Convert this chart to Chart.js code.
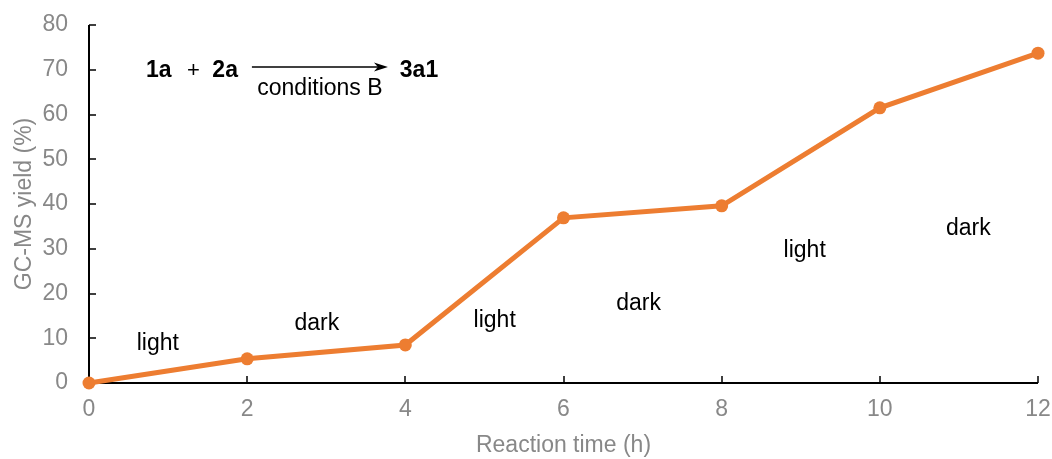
<!DOCTYPE html>
<html>
<head>
<meta charset="utf-8">
<script src="https://cdn.jsdelivr.net/npm/chart.js@4"></script>
<style>
  html, body { margin: 0; padding: 0; background: #fff; }
  #wrap { width: 1052px; height: 459px; }
</style>
</head>
<body>
<div id="wrap"><canvas id="c" width="1052" height="459"></canvas></div>
<script>
// ---- data ----
const times = [0, 2, 4, 6, 8, 10, 12];
const yields = [0, 5.4, 8.5, 36.9, 39.6, 61.5, 73.7];
const xTicks = [0, 2, 4, 6, 8, 10, 12];
const yTicks = [0, 10, 20, 30, 40, 50, 60, 70, 80];
const phaseLabels = ['light', 'dark', 'light', 'dark', 'light', 'dark'];
const phaseX = [0.87, 2.88, 5.13, 6.95, 9.05, 11.12];
const phaseY = [8.9, 13.2, 13.9, 17.7, 29.5, 34.6];
const xTitle = 'Reaction time (h)';
const yTitle = 'GC-MS yield (%)';

const FONT = '"Liberation Sans", Arial, sans-serif';
const GRAY = '#888888';
const ORANGE = '#ED7D31';

const annotPlugin = {
  id: 'annot',
  beforeDatasetsDraw(chart) {
    const ctx = chart.ctx;
    const xs = chart.scales.x, ys = chart.scales.y;
    const x0 = xs.getPixelForValue(0), y0 = ys.getPixelForValue(0);
    ctx.save();
    ctx.strokeStyle = '#000';
    ctx.lineWidth = 2;
    // axis lines
    ctx.beginPath();
    ctx.moveTo(x0, ys.getPixelForValue(80));
    ctx.lineTo(x0, y0);
    ctx.lineTo(xs.getPixelForValue(12), y0);
    ctx.stroke();
    // inward ticks
    ctx.lineWidth = 1.5;
    ctx.beginPath();
    yTicks.forEach(v => {
      const p = Math.round(ys.getPixelForValue(v));
      ctx.moveTo(x0, p); ctx.lineTo(x0 + 7, p);
    });
    xTicks.forEach(v => {
      const p = Math.round(xs.getPixelForValue(v));
      ctx.moveTo(p, y0); ctx.lineTo(p, y0 - 7);
    });
    ctx.stroke();
    // phase labels
    ctx.fillStyle = '#000';
    ctx.font = '23px ' + FONT;
    ctx.textAlign = 'center';
    ctx.textBaseline = 'middle';
    phaseLabels.forEach((t, i) => {
      ctx.fillText(t, xs.getPixelForValue(phaseX[i]), ys.getPixelForValue(phaseY[i]));
    });
    // reaction scheme
    const sy = ys.getPixelForValue(69.7);
    ctx.textAlign = 'left';
    ctx.font = 'bold 23px ' + FONT;
    ctx.fillText('1a', xs.getPixelForValue(0.72), sy);
    ctx.fillText('2a', xs.getPixelForValue(1.56), sy);
    ctx.fillText('3a1', xs.getPixelForValue(3.93), sy);
    ctx.font = '22px ' + FONT;
    ctx.textAlign = 'center';
    ctx.fillText('+', xs.getPixelForValue(1.32), sy);
    ctx.font = '23px ' + FONT;
    ctx.fillText('conditions B', xs.getPixelForValue(2.92), ys.getPixelForValue(65.8));
    // arrow
    const ax1 = xs.getPixelForValue(2.06), ax2 = xs.getPixelForValue(3.78);
    const ay = ys.getPixelForValue(70.6);
    ctx.lineWidth = 1.5;
    ctx.beginPath();
    ctx.moveTo(ax1, ay); ctx.lineTo(ax2 - 8, ay);
    ctx.stroke();
    ctx.beginPath();
    ctx.moveTo(ax2, ay);
    ctx.lineTo(ax2 - 14, ay - 4.5);
    ctx.lineTo(ax2 - 10, ay);
    ctx.lineTo(ax2 - 14, ay + 4.5);
    ctx.closePath();
    ctx.fill();
    ctx.restore();
  }
};

new Chart(document.getElementById('c'), {
  type: 'line',
  data: {
    datasets: [{
      data: times.map((t, i) => ({ x: t, y: yields[i] })),
      borderColor: ORANGE,
      backgroundColor: ORANGE,
      borderWidth: 5,
      pointRadius: 6.5,
      pointBackgroundColor: ORANGE,
      pointBorderColor: ORANGE,
      pointBorderWidth: 0,
      tension: 0,
      clip: false
    }]
  },
  options: {
    responsive: false,
    animation: false,
    devicePixelRatio: 1,
    layout: { padding: { left: 0, right: 14, top: 25, bottom: 0 } },
    plugins: { legend: { display: false }, tooltip: { enabled: false } },
    scales: {
      x: {
        type: 'linear',
        min: 0, max: 12,
        afterBuildTicks: s => { s.ticks = xTicks.map(v => ({ value: v })); },
        afterFit: s => { s.height = 76; s.paddingLeft = 0; s.paddingRight = 0; },
        grid: { display: false, drawTicks: false },
        border: { display: false },
        ticks: { color: GRAY, font: { family: FONT, size: 23 }, padding: 13, maxRotation: 0 },
        title: { display: true, text: xTitle, color: GRAY, font: { family: FONT, size: 23 }, padding: { top: 0, bottom: 0 } }
      },
      y: {
        type: 'linear',
        min: 0, max: 80,
        afterBuildTicks: s => { s.ticks = yTicks.map(v => ({ value: v })); },
        afterFit: s => { s.width = 89; s.paddingTop = 0; s.paddingBottom = 0; },
        grid: { display: false, drawTicks: false },
        border: { display: false },
        ticks: { color: GRAY, font: { family: FONT, size: 23 }, padding: 21 },
        title: { display: true, text: yTitle, color: GRAY, font: { family: FONT, size: 23 }, padding: { top: 11, bottom: 0 } }
      }
    }
  },
  plugins: [annotPlugin]
});
</script>
</body>
</html>
